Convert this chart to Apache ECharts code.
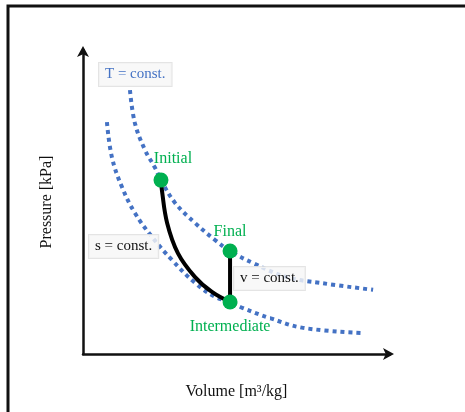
<!DOCTYPE html>
<html>
<head>
<meta charset="utf-8">
<script src="https://cdn.jsdelivr.net/npm/echarts@6/dist/echarts.min.js"></script>
<style>
html,body{margin:0;padding:0;background:#fff;}
#c{width:465px;height:412px;}
</style>
</head>
<body>
<div id="c"></div>
<script>
// Data (abstract units: volume 0..10, pressure 0..10)
var isothermHighV = [1.53, 1.69, 2.02, 2.35, 2.54, 3.00, 3.65, 4.30, 4.79, 5.54, 6.64, 7.72, 9.45];
var isothermHighP = [8.68, 7.60, 6.71, 6.12, 5.72, 4.97, 4.31, 3.75, 3.39, 2.99, 2.53, 2.34, 2.11];
var isothermLowV = [0.78, 0.94, 1.27, 1.69, 2.25, 2.90, 3.65, 4.30, 4.79, 5.21, 6.09, 7.17, 9.12];
var isothermLowP = [7.63, 6.48, 5.49, 4.64, 3.85, 3.09, 2.34, 1.88, 1.71, 1.51, 1.18, 0.86, 0.69];
var isentropeV = [2.54, 2.57, 2.74, 3.09, 3.65, 4.20, 4.79];
var isentropeP = [5.72, 5.39, 4.31, 3.32, 2.53, 2.04, 1.71];
var isochoreV = [4.79, 4.79];
var isochoreP = [1.71, 3.39];
var stateNames = ['Initial', 'Final', 'Intermediate'];
var stateV = [2.54, 4.79, 4.79];
var stateP = [5.72, 3.39, 1.71];
var axisNames = ['Volume [m³/kg]', 'Pressure [kPa]'];
var annotations = ['T = const.', 's = const.', 'v = const.'];

function zip(a, b) { return a.map(function (v, i) { return [v, b[i]]; }); }

var blue = '#4472C4';
var green = '#00B050';
var serif = '"Liberation Serif", "DejaVu Serif", serif';

var labelPos = {
  'Initial': { position: 'top', offset: [12, -2] },
  'Final': { position: 'top', offset: [0, 0] },
  'Intermediate': { position: 'bottom', offset: [0, 5] }
};

var chart = echarts.init(document.getElementById('c'), null, { renderer: 'canvas' });

var dotted = { color: blue, width: 4, type: [4, 4], cap: 'butt' };

var boxStyle = function (txt, color, x, y) {
  return {
    type: 'text', left: x, top: y, z: 100,
    style: {
      text: txt, fill: color, font: '15px ' + serif,
      backgroundColor: 'rgba(246,246,246,0.82)',
      borderColor: 'rgba(225,225,225,0.9)', borderWidth: 1,
      padding: [4, 6, 4, 6]
    }
  };
};

chart.setOption({
  animation: false,
  backgroundColor: '#fff',
  grid: { left: 83, right: 75, top: 50, bottom: 58, containLabel: false },
  xAxis: {
    type: 'value', min: 0, max: 10,
    name: axisNames[0], nameLocation: 'middle', nameGap: 30,
    nameTextStyle: { fontFamily: serif, fontSize: 16, color: '#111' },
    axisLine: { show: true, onZero: false, symbol: ['none', 'arrow'], symbolSize: [9, 11], symbolOffset: [0, 4], lineStyle: { color: '#111', width: 2.5 } },
    axisTick: { show: false }, axisLabel: { show: false }, splitLine: { show: false }
  },
  yAxis: {
    type: 'value', min: 0, max: 10,
    name: axisNames[1], nameLocation: 'middle', nameGap: 28, nameRotate: 90,
    nameTextStyle: { fontFamily: serif, fontSize: 16, color: '#111' },
    axisLine: { show: true, onZero: false, symbol: ['none', 'arrow'], symbolSize: [9, 11], symbolOffset: [0, 4], lineStyle: { color: '#111', width: 2.5 } },
    axisTick: { show: false }, axisLabel: { show: false }, splitLine: { show: false }
  },
  graphic: [
    { type: 'rect', shape: { x: 8, y: 6, width: 600, height: 600 }, style: { fill: 'none', stroke: '#111', lineWidth: 3 }, z: 0, silent: true },
    boxStyle(annotations[0], blue, 98, 62),
    boxStyle(annotations[1], '#111', 88, 234),
    boxStyle(annotations[2], '#111', 233, 266)
  ],
  series: [
    { type: 'line', data: zip(isothermHighV, isothermHighP), smooth: 0.4, symbol: 'none', lineStyle: dotted, z: 2 },
    { type: 'line', data: zip(isothermLowV, isothermLowP), smooth: 0.4, symbol: 'none', lineStyle: dotted, z: 2 },
    { type: 'line', data: zip(isentropeV, isentropeP), smooth: 0.4, symbol: 'none', lineStyle: { color: '#000', width: 4 }, z: 3 },
    { type: 'line', data: zip(isochoreV, isochoreP), symbol: 'none', lineStyle: { color: '#000', width: 4 }, z: 3 },
    {
      type: 'scatter', z: 5, symbolSize: 15,
      itemStyle: { color: green, opacity: 1 },
      data: stateNames.map(function (n, i) {
        return {
          name: n, value: [stateV[i], stateP[i]],
          label: {
            show: true, formatter: n, position: labelPos[n].position, offset: labelPos[n].offset,
            color: green, fontFamily: serif, fontSize: 16, distance: 4
          }
        };
      })
    }
  ]
});
</script>
</body>
</html>
